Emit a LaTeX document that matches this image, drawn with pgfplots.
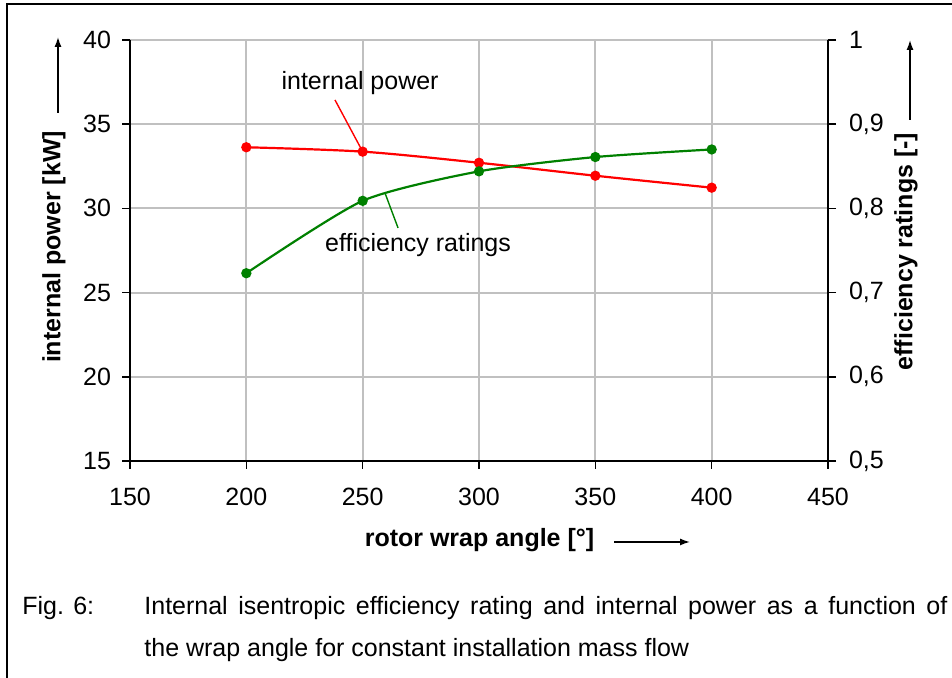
\documentclass[border=0pt]{standalone}
\usepackage{fontspec}
\setmainfont{Liberation Sans}
\usepackage{pgfplots}
\pgfplotsset{compat=1.18}
\usetikzlibrary{arrows.meta}

\definecolor{gridgray}{RGB}{192,192,192}
\definecolor{exred}{RGB}{255,0,0}
\definecolor{exgreen}{RGB}{0,128,0}

\newcommand{\lblfont}{\fontsize{12.5}{14}\selectfont}

\pgfplotsset{
  base/.style={
    scale only axis, width=349pt, height=210.5pt,
    at={(65pt,108.5pt)}, anchor=south west,
    xmin=150, xmax=450,
    tick align=outside, major tick length=4pt,
    tick style={black, line width=0.8pt},
    axis line style={line width=0.9pt},
    ticklabel style={font=\lblfont},
    /pgf/number format/assume math mode=true,
  },
}

\begin{document}
\begin{tikzpicture}
\useasboundingbox (0,0) rectangle (476pt,339pt);

% power, left axis
\begin{axis}[base,
    axis x line*=bottom, axis y line*=left,
    ymin=15, ymax=40,
    xtick={150,200,...,450}, ytick={15,20,...,40},
    xticklabel style={yshift=-6pt},
    yticklabel style={xshift=-2pt},
    grid=major, grid style={gridgray, line width=1pt},
  ]
  \addplot[exred, line width=1.1pt, smooth, mark=*, mark size=2pt,
    mark options={fill=exred, draw=exred}] coordinates {
    (200,33.63) (250,33.37) (300,32.71) (350,31.94) (400,31.23)};
  \node[font=\lblfont] at (axis cs:248.9,37.45) {internal power};
  \draw[exred, line width=0.7pt] (axis cs:238.1,36.44) -- (axis cs:250,33.37);
  \node[font=\lblfont] at (axis cs:273.8,27.83) {efficiency ratings};
  \draw[exgreen, line width=0.7pt] (axis cs:259.6,30.91) -- (axis cs:265.2,28.84);
\end{axis}

% efficiency, right axis
\begin{axis}[base,
    axis x line=none, axis y line*=right,
    ymin=0.5, ymax=1,
    ytick={0.5,0.6,0.7,0.8,0.9,1},
    yticklabel style={xshift=3pt, /pgf/number format/.cd, use comma, fixed, precision=1},
  ]
  \addplot[exgreen, line width=1.1pt, smooth, tension=0.4, mark=*, mark size=2pt,
    mark options={fill=exgreen, draw=exgreen}] coordinates {
    (200,0.723) (250,0.809) (300,0.844) (350,0.861) (400,0.870)};
\end{axis}

% axis titles with arrows
\node[rotate=90, font=\lblfont\bfseries] at (27pt,215.5pt) {internal power [kW]};
\draw[line width=0.7pt, -{Latex[length=5pt,width=3.5pt]}] (29pt,282.5pt) -- (29pt,320.5pt);
\node[rotate=90, font=\lblfont\bfseries] at (453pt,213.25pt) {efficiency ratings [-]};
\draw[line width=0.7pt, -{Latex[length=5pt,width=3.5pt]}] (455pt,279pt) -- (455pt,319pt);
\node[font=\lblfont\bfseries] at (239.75pt,69pt) {rotor wrap angle [°]};
\draw[line width=0.7pt, -{Latex[length=5pt,width=3.5pt]}] (307pt,68pt) -- (345pt,68pt);

% caption
\node[anchor=base west, inner sep=0pt, font=\lblfont] at (11pt,31.5pt) {Fig. 6:};
\node[anchor=base west, inner sep=0pt, font=\lblfont] at (72pt,31.5pt)
  {\makebox[401.5pt][s]{Internal isentropic efficiency rating and internal power as a function of}};
\node[anchor=base west, inner sep=0pt, font=\lblfont] at (72pt,10.5pt)
  {the wrap angle for constant installation mass flow};

% frame
\draw[line width=1.3pt] (3.5pt,-2pt) -- (3.5pt,337pt) -- (480pt,337pt);
\end{tikzpicture}
\end{document}
